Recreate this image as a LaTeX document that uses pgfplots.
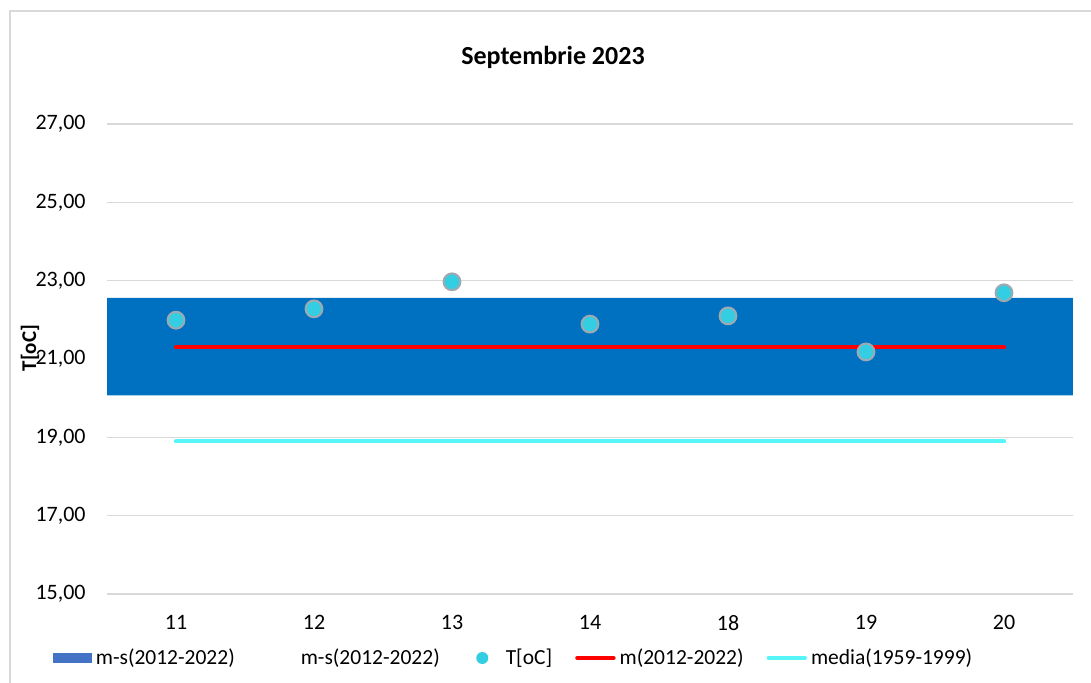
\documentclass[border=0pt]{standalone}
\usepackage{pgfplots}
\pgfplotsset{compat=1.18}
\usepackage{fontspec}
\setmainfont{Carlito}
\definecolor{band}{RGB}{0,112,192}
\definecolor{legblue}{RGB}{68,114,196}
\definecolor{mk}{RGB}{51,206,226}
\definecolor{mkedge}{RGB}{160,168,178}
\definecolor{cyanline}{RGB}{85,245,248}
\definecolor{gridc}{RGB}{217,217,217}
\begin{document}
\begin{tikzpicture}
\useasboundingbox (0,0) rectangle (545.5pt,341.5pt);
\draw[gridc, line width=0.8pt] (5pt,-20pt) -- (5pt,336pt) -- (600pt,336pt);
\node[font=\bfseries\fontsize{13}{15}\selectfont] at (276.5pt,313pt) {Septembrie 2023};
\begin{axis}[
  at={(53.5pt,44.5pt)}, anchor=south west,
  width=483pt, height=254.6pt, scale only axis,
  xmin=-0.5, xmax=6.5, ymin=15, ymax=28,
  xtick={0,1,2,3,4,5,6},
  xticklabels={11,12,13,14,18,19,20},
  ytick={15,17,19,21,23,25,27},
  ymajorgrids, grid style={gridc, line width=0.75pt},
  axis line style={draw=none},
  major tick length=0pt,
  tick style={draw=none},
  ticklabel style={font=\fontsize{11}{13}\selectfont},
  yticklabel style={inner sep=0pt, xshift=-10.5pt, /pgf/number format/.cd, fixed, fixed zerofill, precision=2, use comma, assume math mode=true},
  xticklabel style={inner sep=0pt, anchor=north, yshift=-10.5pt},
  ylabel={T[oC]},
  ylabel style={font=\bfseries\fontsize{10.5}{12}\selectfont, at={(axis description cs:-0.0797,0.483)}, anchor=center, rotate=0},
  legend columns=5,
  legend style={draw=none, fill=none, font=\fontsize{10.75}{12}\selectfont,
    at={(axis description cs:0.4198,-0.1257)}, anchor=center,
    nodes={inner sep=0pt},
    /tikz/every odd column/.append style={column sep=2pt},
    /tikz/every even column/.append style={column sep=11.5pt}},
]
% band m-s .. m+s
\addplot[fill=band, draw=none, forget plot] coordinates {(-0.5,20.07) (6.5,20.07) (6.5,22.56) (-0.5,22.56) (-0.5,20.07)};
% m(2012-2022)
\addplot[red, line width=2.2pt, line cap=round, forget plot] coordinates {(0,21.30) (6,21.30)};
% media(1959-1999)
\addplot[cyanline, line width=2.2pt, line cap=round, forget plot] coordinates {(0,18.90) (6,18.90)};
% T[oC]
\addplot[only marks, mark=*, mark size=4.2pt, mark options={fill=mk, draw=mkedge, line width=1pt}, forget plot] coordinates {
(0,21.99) (1,22.28) (2,22.97) (3,21.89) (4,22.10) (5,21.18) (6,22.69)};
% legend
\addlegendimage{legend image code/.code={\fill[legblue, draw=none] (0pt,-2.6pt) rectangle (19.5pt,2.6pt);}}
\addlegendentry{m-s(2012-2022)}
\addlegendimage{legend image code/.code={\path[draw=none, fill=none] (0pt,-2.6pt) rectangle (19.5pt,2.6pt);}}
\addlegendentry{m-s(2012-2022)}
\addlegendimage{legend image code/.code={\path[draw=none, fill=none] (0pt,-2.6pt) rectangle (19.5pt,2.6pt); \fill[mk, draw=none] (9.75pt,0pt) circle (3pt);}}
\addlegendentry{T[oC]}
\addlegendimage{legend image code/.code={\draw[red, line width=2.2pt, line cap=round] (1pt,0pt) -- (19pt,0pt);}}
\addlegendentry{m(2012-2022)}
\addlegendimage{legend image code/.code={\draw[cyanline, line width=2.2pt, line cap=round] (1pt,0pt) -- (19pt,0pt);}}
\addlegendentry{media(1959-1999)}
\end{axis}
\end{tikzpicture}
\end{document}
